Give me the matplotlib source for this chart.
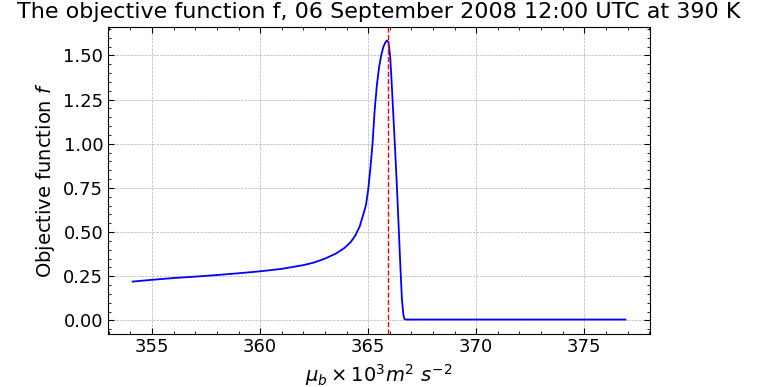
import matplotlib
matplotlib.use("Agg")
import matplotlib.pyplot as plt
from matplotlib.ticker import AutoMinorLocator

mu_b = [354.1, 355.0, 356.0, 357.0, 358.0, 359.0, 360.0, 361.0, 362.0, 362.5,
        363.0, 363.5, 363.9, 364.2, 364.4, 364.6, 364.75, 364.9, 365.0, 365.1,
        365.2, 365.3, 365.4, 365.5, 365.6, 365.7, 365.8, 365.87, 365.94, 366.02,
        366.08, 366.16, 366.24, 366.32, 366.40, 366.48, 366.56, 366.63, 366.68,
        366.75, 368.0, 370.0, 372.0, 374.0, 376.9]
f_vals = [0.220, 0.230, 0.240, 0.248, 0.257, 0.267, 0.278, 0.292, 0.313, 0.328,
          0.350, 0.378, 0.410, 0.445, 0.480, 0.530, 0.590, 0.655, 0.740, 0.860,
          1.000, 1.190, 1.330, 1.430, 1.500, 1.548, 1.575, 1.585, 1.575, 1.490,
          1.360, 1.170, 0.980, 0.780, 0.560, 0.330, 0.120, 0.030, 0.008,
          0.005, 0.005, 0.005, 0.005, 0.005, 0.005]
mu_opt = 365.9

title = "The objective function f, 06 September 2008 12:00 UTC at 390 K"
xlabel = r"$\mu_b \times 10^3 m^2\ s^{-2}$"
ylabel = r"Objective function $f$"

fig = plt.figure(figsize=(7.59, 3.87), dpi=100)
ax = fig.add_axes([108/759, 1 - 333.5/387, (650-108)/759, (333.5-26.5)/387])
ax.plot(mu_b, f_vals, color="blue", lw=1.3)
ax.axvline(mu_opt, color="red", ls="--", lw=1.0)

ax.set_title(title, fontsize=16)
ax.set_xlabel(xlabel, fontsize=14)
ax.set_ylabel(ylabel, fontsize=14)
ax.set_yticks([0, 0.25, 0.5, 0.75, 1.0, 1.25, 1.5])
ax.set_xticks([355, 360, 365, 370, 375])
ax.xaxis.set_minor_locator(AutoMinorLocator(5))
ax.yaxis.set_minor_locator(AutoMinorLocator(5))
ax.tick_params(which="both", direction="in", top=True, right=True, labelsize=13)
ax.tick_params(which="major", length=4, width=0.8)
ax.tick_params(which="minor", length=2, width=0.6)
ax.grid(True, which="major", ls="--", color="#b0b0b0", lw=0.5)
ax.set_axisbelow(True)

fig.savefig("out.png", dpi=100)
